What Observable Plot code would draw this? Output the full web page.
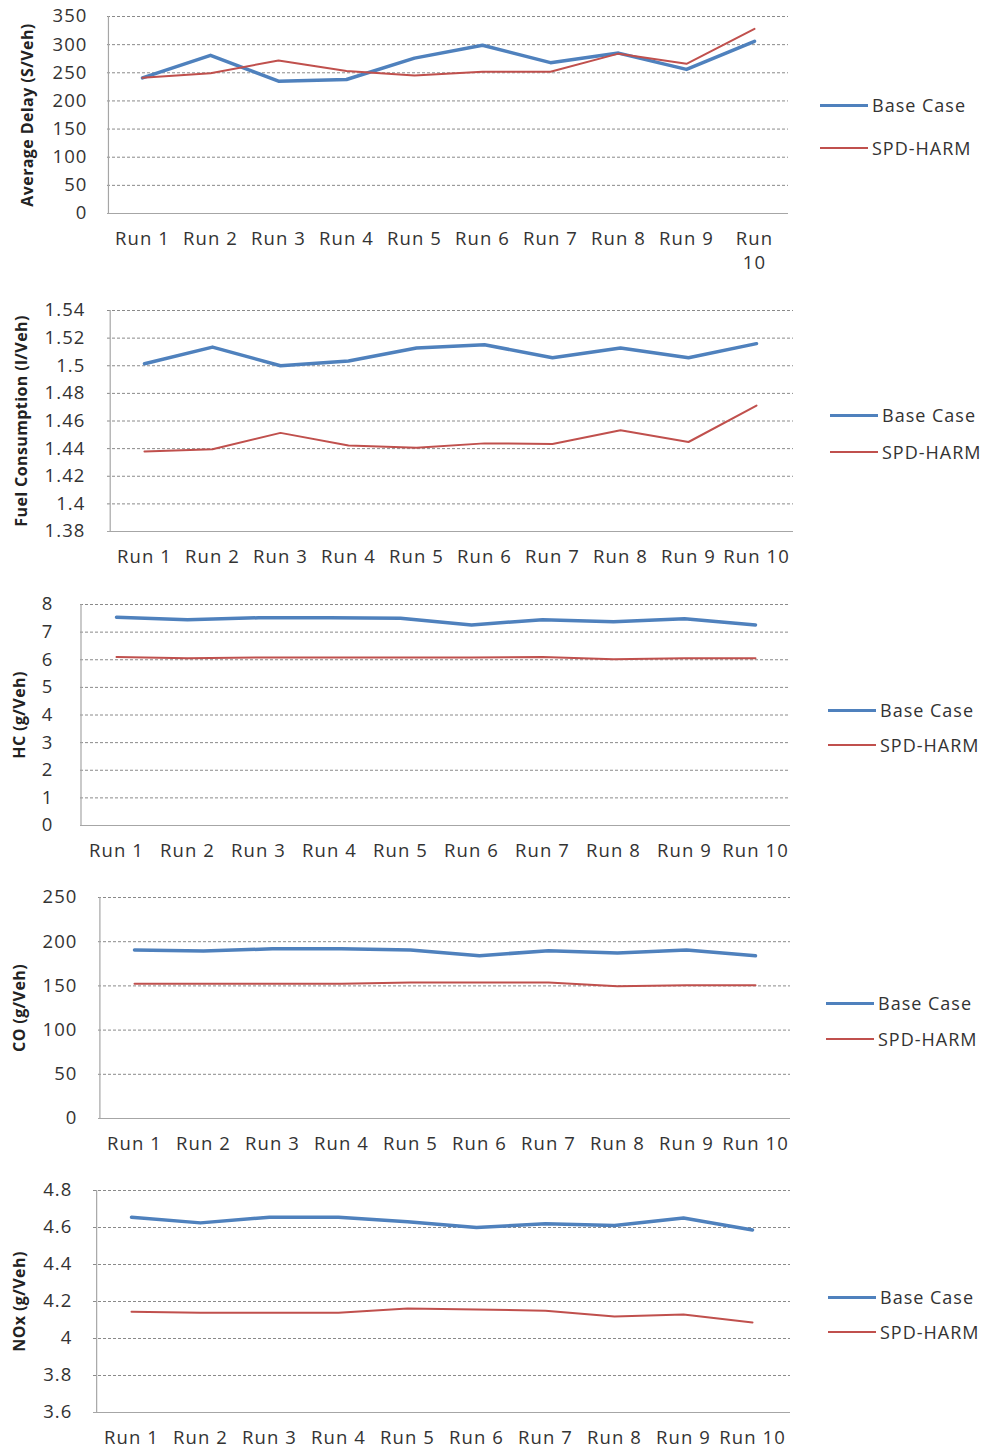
<!DOCTYPE html>
<html>
<head>
<meta charset="utf-8">
<script src="https://cdn.jsdelivr.net/npm/d3@7"></script>
<script src="https://cdn.jsdelivr.net/npm/@observablehq/plot@0.6"></script>
<style>
  html, body { margin: 0; padding: 0; background: #fff; }
  #page { position: relative; width: 997px; height: 1448px; background: #fff; font-family: "Open Sans", sans-serif; }
  .panel { position: absolute; left: 0; }
  .panel text { letter-spacing: 1.1px; }
  .panel g[font-weight="bold"] text, .panel text[font-weight="bold"] { letter-spacing: 0.4px; }
  .legend { position: absolute; font-size: 18px; color: #333; letter-spacing: 1px; }
  .legend .item { position: absolute; display: flex; align-items: center; white-space: nowrap; }
  .legend .swatch { display: inline-block; width: 48px; margin-right: 4px; }
</style>
</head>
<body>
<div id="page"></div>
<script>
// Ten simulation runs, two signal strategies
const runs = ["Run 1", "Run 2", "Run 3", "Run 4", "Run 5", "Run 6", "Run 7", "Run 8", "Run 9", "Run 10"];
const seriesNames = ["Base Case", "SPD-HARM"];

// Average delay (s/veh)
const delayBase = [241, 281, 235, 238, 276, 299, 268, 285, 256, 306];
const delaySpd  = [241, 249, 272, 253, 245, 252, 252, 284, 266, 328];
const delayTicks = [0, 50, 100, 150, 200, 250, 300, 350];

// Fuel consumption (l/veh)
const fuelBase = [1.5015, 1.5135, 1.5000, 1.5034, 1.5128, 1.5152, 1.5058, 1.5128, 1.5058, 1.5160];
const fuelSpd  = [1.4380, 1.4395, 1.4514, 1.4422, 1.4407, 1.4438, 1.4434, 1.4533, 1.4448, 1.4712];
const fuelTicks = [1.38, 1.40, 1.42, 1.44, 1.46, 1.48, 1.50, 1.52, 1.54];

// HC emissions (g/veh)
const hcBase = [7.54, 7.45, 7.52, 7.52, 7.50, 7.26, 7.45, 7.38, 7.48, 7.26];
const hcSpd  = [6.10, 6.05, 6.08, 6.08, 6.08, 6.08, 6.10, 6.02, 6.05, 6.05];
const hcTicks = [0, 1, 2, 3, 4, 5, 6, 7, 8];

// CO emissions (g/veh)
const coBase = [190.6, 189.4, 192.0, 192.0, 190.6, 184.2, 189.8, 187.2, 190.6, 184.0];
const coSpd  = [152.3, 152.3, 152.3, 152.3, 153.8, 153.8, 153.8, 149.6, 150.8, 150.8];
const coTicks = [0, 50, 100, 150, 200, 250];

// NOx emissions (g/veh)
const noxBase = [4.656, 4.625, 4.656, 4.656, 4.631, 4.600, 4.620, 4.611, 4.651, 4.587];
const noxSpd  = [4.144, 4.139, 4.139, 4.139, 4.162, 4.157, 4.150, 4.119, 4.130, 4.087];
const noxTicks = [3.6, 3.8, 4.0, 4.2, 4.4, 4.6, 4.8];

const BLUE = "#4f81bd";
const RED = "#c0504d";
const INK = "#333";
const FONT = "'Open Sans', sans-serif";

const panels = [
  { label: "Average Delay (S/Veh)", base: delayBase, spd: delaySpd, ticks: delayTicks,
    top: 0, height: 280, mt: 16, mb: 67, ml: 107, right: 788, labelDx: -80, tp: 20, wrapLast: true,
    legend: { x: 820, y1: 105, y2: 148 } },
  { label: "Fuel Consumption (l/Veh)", base: fuelBase, spd: fuelSpd, ticks: fuelTicks,
    top: 290, height: 285, mt: 20, mb: 44, ml: 107, right: 793, labelDx: -86, tp: 22,
    legend: { x: 830, y1: 415, y2: 452 } },
  { label: "HC (g/Veh)", base: hcBase, spd: hcSpd, ticks: hcTicks,
    top: 585, height: 285, mt: 19, mb: 45, ml: 80, right: 790, labelDx: -61, tp: 27,
    legend: { x: 828, y1: 710, y2: 745 } },
  { label: "CO (g/Veh)", base: coBase, spd: coSpd, ticks: coTicks,
    top: 878, height: 285, mt: 19, mb: 45, ml: 98, right: 790, labelDx: -79, tp: 21,
    legend: { x: 826, y1: 1003, y2: 1039 } },
  { label: "NOx (g/Veh)", base: noxBase, spd: noxSpd, ticks: noxTicks,
    top: 1170, height: 278, mt: 20, mb: 36, ml: 93, right: 790, labelDx: -74, tp: 21,
    legend: { x: 828, y1: 1297, y2: 1332 } }
];

const page = document.getElementById("page");
const fmt = d => String(+d.toFixed(2));

for (const p of panels) {
  const width = 800;
  const mr = width - p.right;
  const step = (p.right - p.ml) / runs.length;
  const baseRows = runs.map((r, i) => ({ run: r, v: p.base[i] }));
  const spdRows = runs.map((r, i) => ({ run: r, v: p.spd[i] }));
  const ymin = p.ticks[0], ymax = p.ticks[p.ticks.length - 1];

  const chart = Plot.plot({
    width, height: p.height,
    marginTop: p.mt, marginBottom: p.mb, marginLeft: p.ml, marginRight: mr,
    style: { fontFamily: FONT, fontSize: "18px", color: INK, background: "transparent", overflow: "visible" },
    x: { type: "point", domain: runs, padding: 0.5 },
    y: { domain: [ymin, ymax] },
    marks: [
      // dashed horizontal gridlines
      Plot.ruleY(p.ticks.slice(1), { stroke: "#8a8a8a", strokeDasharray: "3,2", strokeWidth: 1 }),
      // baseline and left axis line
      Plot.ruleY([ymin], { stroke: "#a6a6a6", strokeWidth: 1.2 }),
      Plot.ruleX([runs[0]], { dx: -step / 2, stroke: "#a6a6a6", strokeWidth: 1.2 }),
      Plot.axisY({ ticks: p.ticks, tickSize: 0, tickPadding: p.tp, tickFormat: fmt, label: null, fontSize: 18.5, fill: INK }),
      Plot.axisX({
        tickSize: 0, tickPadding: 14, label: null, fontSize: 18.5, lineHeight: 1.3, fill: INK,
        tickFormat: d => (p.wrapLast && d === "Run 10") ? "Run\n10" : d
      }),
      Plot.text([p.label], { text: d => d, frameAnchor: "left", textAnchor: "middle", dx: p.labelDx, rotate: -90,
        fontWeight: "bold", fontSize: 16, fill: "#222" }),
      Plot.line(baseRows, { x: "run", y: "v", stroke: BLUE, strokeWidth: 3.5 }),
      Plot.line(spdRows, { x: "run", y: "v", stroke: RED, strokeWidth: 2 })
    ]
  });
  chart.classList.add("panel");
  chart.style.top = p.top + "px";
  page.appendChild(chart);

  // legend to the right of each panel
  const lg = document.createElement("div");
  lg.className = "legend";
  [[seriesNames[0], BLUE, 3, p.legend.y1], [seriesNames[1], RED, 2, p.legend.y2]].forEach(([name, color, w, y]) => {
    const item = document.createElement("div");
    item.className = "item";
    item.style.left = p.legend.x + "px";
    item.style.top = (y - 13) + "px";
    item.style.height = "26px";
    const sw = document.createElement("span");
    sw.className = "swatch";
    sw.style.borderTop = w + "px solid " + color;
    const tx = document.createElement("span");
    tx.textContent = name;
    item.appendChild(sw);
    item.appendChild(tx);
    lg.appendChild(item);
  });
  page.appendChild(lg);
}
</script>
</body>
</html>
